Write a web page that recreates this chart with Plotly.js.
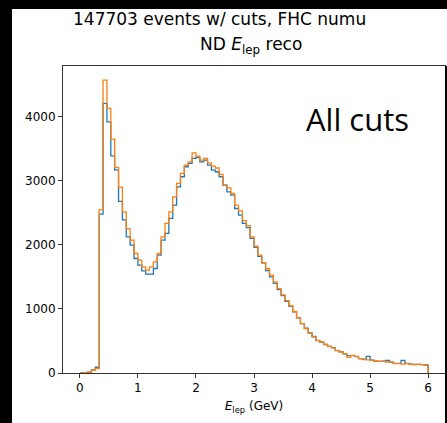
<!DOCTYPE html>
<html>
<head>
<meta charset="utf-8">
<script src="https://cdn.plot.ly/plotly-3.0.1.min.js"></script>
<style>
  html, body { margin: 0; padding: 0; background: #ffffff; }
  #wrap { position: relative; width: 447px; height: 423px; overflow: hidden; }
  #chart { position: absolute; left: 0; top: 0; width: 447px; height: 423px; }
  .band { position: absolute; background: #000; }
</style>
</head>
<body>
<div id="wrap">
  <div id="chart"></div>
  <div class="band" style="left:0;top:0;width:12px;height:423px;"></div>
  <div class="band" style="left:0;top:0;width:447px;height:9px;"></div>
  <div class="band" style="left:445px;top:66px;width:2px;height:357px;"></div>
</div>
<script>
// Histogram binning (E_lep reco, GeV)
const binLow = 0;
const binHigh = 6;
const nBins = 90;

// Series 1 (blue) counts per bin
const countsBlue = [
  0, 0, 15, 50, 90, 2480, 4210, 3920, 3390, 3170,
  2680, 2390, 2125, 1995, 1787, 1683, 1594, 1542, 1542, 1631,
  1840, 2073, 2178, 2412, 2620, 2906, 3063, 3219, 3271, 3349,
  3365, 3297, 3323, 3245, 3167, 3141, 3063, 2932, 2828, 2776,
  2568, 2464, 2334, 2270, 2100, 1960, 1820, 1720, 1600, 1500,
  1400, 1300, 1210, 1120, 1040, 955, 860, 770, 700, 625,
  570, 505, 480, 445, 415, 396, 350, 330, 300, 270,
  270, 255, 224, 215, 260, 200, 185, 182, 185, 198,
  170, 150, 150, 198, 150, 140, 135, 135, 130, 125
];

// Series 2 (orange) counts per bin
const countsOrange = [
  0, 0, 15, 45, 70, 2550, 4570, 4130, 3650, 3210,
  2900, 2516, 2255, 2073, 1865, 1761, 1656, 1605, 1656, 1734,
  1865, 2125, 2334, 2516, 2750, 2959, 3115, 3245, 3297, 3437,
  3385, 3323, 3349, 3280, 3229, 3200, 3100, 2932, 2890, 2802,
  2620, 2530, 2380, 2300, 2125, 1979, 1839, 1719, 1631, 1527,
  1422, 1318, 1220, 1130, 1050, 960, 860, 772, 693, 620,
  563, 510, 484, 448, 417, 391, 354, 328, 302, 245,
  276, 260, 224, 209, 205, 198, 187, 182, 180, 172,
  170, 146, 146, 138, 146, 135, 130, 135, 130, 120
];

const xTickVals = [0, 1, 2, 3, 4, 5, 6];
const yTickVals = [0, 1000, 2000, 3000, 4000];

const suptitleText = "147703 events w/ cuts, FHC numu";
const axTitleText = "ND <i>E</i><sub>lep</sub> reco";
const xTitleText = "<i>E</i><sub>lep</sub> (GeV)";
const noteText = "All cuts";

function binEdges() {
  const e = [];
  for (let i = 0; i <= nBins; i++) e.push(binLow + (binHigh - binLow) * i / nBins);
  return e;
}

function stepTrace(counts, color) {
  const e = binEdges();
  const x = [e[0]];
  const y = [0];
  for (let i = 0; i < counts.length; i++) { x.push(e[i]); y.push(counts[i]); }
  x.push(e[counts.length]); y.push(counts[counts.length - 1]);
  x.push(e[counts.length]); y.push(0);
  return {
    type: 'scatter', mode: 'lines', x: x, y: y,
    line: { shape: 'hv', color: color, width: 1.3 },
    hoverinfo: 'skip', showlegend: false
  };
}

const font = "DejaVu Sans, Liberation Sans, sans-serif";

const data = [stepTrace(countsBlue, '#1f77b4'), stepTrace(countsOrange, '#ff7f0e')];

const layout = {
  width: 447, height: 423,
  margin: { l: 63, r: 2, t: 66, b: 50 },
  paper_bgcolor: '#ffffff', plot_bgcolor: '#ffffff',
  font: { family: font, size: 12, color: '#000' },
  xaxis: {
    range: [-0.29, 6.29], tickvals: xTickVals, ticktext: xTickVals.map(String),
    ticks: 'outside', ticklen: 4, tickwidth: 1, tickcolor: '#333',
    showline: true, linecolor: '#333', linewidth: 1, mirror: true,
    showgrid: false, zeroline: false,
    tickfont: { family: font, size: 12, color: '#000' },
    title: { text: xTitleText, font: { family: font, size: 12, color: '#000' }, standoff: 7 }
  },
  yaxis: {
    range: [0, 4792], tickvals: yTickVals, ticktext: yTickVals.map(String),
    ticks: 'outside', ticklen: 4, tickwidth: 1, tickcolor: '#333',
    showline: true, linecolor: '#333', linewidth: 1, mirror: true,
    showgrid: false, zeroline: false,
    tickfont: { family: font, size: 12, color: '#000' }
  },
  annotations: [
    { text: suptitleText, xref: 'paper', yref: 'paper', x: (219 - 63) / 382, y: 1 + (66 - 19) / 307,
      xanchor: 'center', yanchor: 'middle', showarrow: false,
      font: { family: font, size: 17, color: '#000' } },
    { text: axTitleText, xref: 'paper', yref: 'paper', x: (251 - 63) / 382, y: 1 + (66 - 46) / 307,
      xanchor: 'center', yanchor: 'middle', showarrow: false,
      font: { family: font, size: 17, color: '#000' } },
    { text: noteText, xref: 'paper', yref: 'paper', x: (411 - 63) / 382, y: 1 - (119 - 66) / 307,
      xanchor: 'right', yanchor: 'middle', showarrow: false,
      font: { family: 'Open Sans, Lato, sans-serif', size: 31, color: '#000' } }
  ]
};

Plotly.newPlot('chart', data, layout, { staticPlot: true, displayModeBar: false });
</script>
</body>
</html>
